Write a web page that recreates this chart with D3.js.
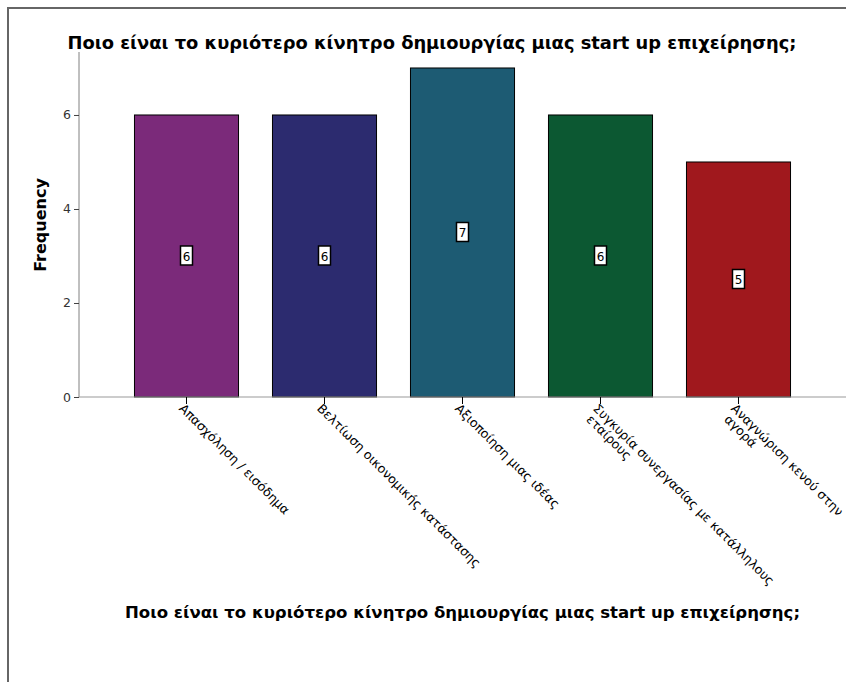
<!DOCTYPE html>
<html>
<head>
<meta charset="utf-8">
<script src="https://cdn.jsdelivr.net/npm/d3@7"></script>
<style>
  html, body { margin: 0; padding: 0; background: #fff; }
  svg { display: block; }
</style>
</head>
<body>
<svg id="chart" width="846" height="682"></svg>
<script>
const titleText = "Ποιο είναι το κυριότερο κίνητρο δημιουργίας μιας start up επιχείρησης;";
const categories = [
  "Απασχόληση / εισόδημα",
  "Βελτίωση οικονομικής κατάστασης",
  "Αξιοποίηση μιας ιδέας",
  "Συγκυρία συνεργασίας με κατάλληλους εταίρους",
  "Αναγνώριση κενού στην αγορά"
];
const labelLines = [
  ["Απασχόληση / εισόδημα"],
  ["Βελτίωση οικονομικής κατάστασης"],
  ["Αξιοποίηση μιας ιδέας"],
  ["Συγκυρία συνεργασίας με κατάλληλους", "εταίρους"],
  ["Αναγνώριση κενού στην", "αγορά"]
];
const frequencies = [6, 6, 7, 6, 5];
const barColors = ["#7b2a7a", "#2c2b6f", "#1d5b73", "#0c5832", "#a0181d"];
const yTicks = [0, 2, 4, 6];
const yLabel = "Frequency";

const svg = d3.select("#chart");

// frame
svg.append("path")
  .attr("d", "M8,682 L8,8 L846,8")
  .attr("fill", "none").attr("stroke", "#666").attr("stroke-width", 2);

const x = d3.scaleBand().domain(categories).range([79, 846])
  .paddingInner(0.246).paddingOuter(0.402);
const y = d3.scaleLinear().domain([0, 7.34]).range([397, 52]);

// title
svg.append("text")
  .attr("x", 432).attr("y", 49)
  .attr("text-anchor", "middle")
  .attr("font-family", "'DejaVu Sans', sans-serif")
  .attr("font-size", 17.5).attr("font-weight", "bold")
  .attr("textLength", 729).attr("lengthAdjust", "spacingAndGlyphs")
  .attr("fill", "#000")
  .text(titleText);

// bars
svg.selectAll("rect.bar").data(frequencies).enter().append("rect")
  .attr("class", "bar")
  .attr("x", (d, i) => x(categories[i]))
  .attr("y", d => y(d))
  .attr("width", x.bandwidth())
  .attr("height", d => y(0) - y(d))
  .attr("fill", (d, i) => barColors[i])
  .attr("stroke", "#000").attr("stroke-width", 1);

// y axis
const yAxis = svg.append("g").attr("transform", "translate(79,0)")
  .call(d3.axisLeft(y).tickValues(yTicks).tickSize(5).tickPadding(3).tickFormat(d3.format("d")));
yAxis.select(".domain").attr("stroke", "#808080").attr("d", `M0,${y(0)}V52`);
yAxis.selectAll(".tick line").attr("stroke", "#404040");
yAxis.selectAll(".tick text").attr("font-family", "'DejaVu Sans', sans-serif")
  .attr("font-size", 12.5).attr("fill", "#333");

// x axis
const xAxis = svg.append("g").attr("transform", `translate(0,${y(0)})`)
  .call(d3.axisBottom(x).tickSize(7).tickFormat(""));
xAxis.select(".domain").attr("stroke", "#999").attr("d", "M79,0H846");
xAxis.selectAll(".tick line").attr("stroke", "#000");

// x tick labels
const lbl = svg.append("g");
categories.forEach((c, i) => {
  const cx = x(c) + x.bandwidth() / 2;
  const t = lbl.append("text")
    .attr("transform", `translate(${cx - 1},${y(0) + 5}) rotate(45)`)
    .attr("font-family", "'DejaVu Sans', sans-serif")
    .attr("font-size", 12.6)
    .attr("fill", "#000");
  labelLines[i].forEach((line, j) => {
    t.append("tspan").attr("x", j === 0 ? 0 : 3).attr("dy", j === 0 ? "0.8em" : "1.0em").text(line);
  });
});

// value labels
frequencies.forEach((v, i) => {
  const cx = x(categories[i]) + x.bandwidth() / 2;
  const cy = y(v / 2);
  svg.append("rect")
    .attr("x", cx - 6).attr("y", cy - 10).attr("width", 12).attr("height", 19)
    .attr("fill", "#fff").attr("stroke", "#000").attr("stroke-width", 1.5);
  svg.append("text")
    .attr("x", cx).attr("y", cy + 5)
    .attr("text-anchor", "middle")
    .attr("font-family", "'DejaVu Sans', sans-serif")
    .attr("font-size", 12).attr("fill", "#000")
    .text(v);
});

// y axis title
svg.append("text")
  .attr("transform", "translate(46,225) rotate(-90)")
  .attr("text-anchor", "middle")
  .attr("font-family", "'DejaVu Sans', sans-serif")
  .attr("font-size", 16).attr("font-weight", "bold")
  .attr("fill", "#000")
  .text(yLabel);

// x axis title
svg.append("text")
  .attr("x", 462.5).attr("y", 618)
  .attr("text-anchor", "middle")
  .attr("font-family", "'DejaVu Sans', sans-serif")
  .attr("font-size", 16).attr("font-weight", "bold")
  .attr("textLength", 675).attr("lengthAdjust", "spacingAndGlyphs")
  .attr("fill", "#000")
  .text(titleText);
</script>
</body>
</html>
